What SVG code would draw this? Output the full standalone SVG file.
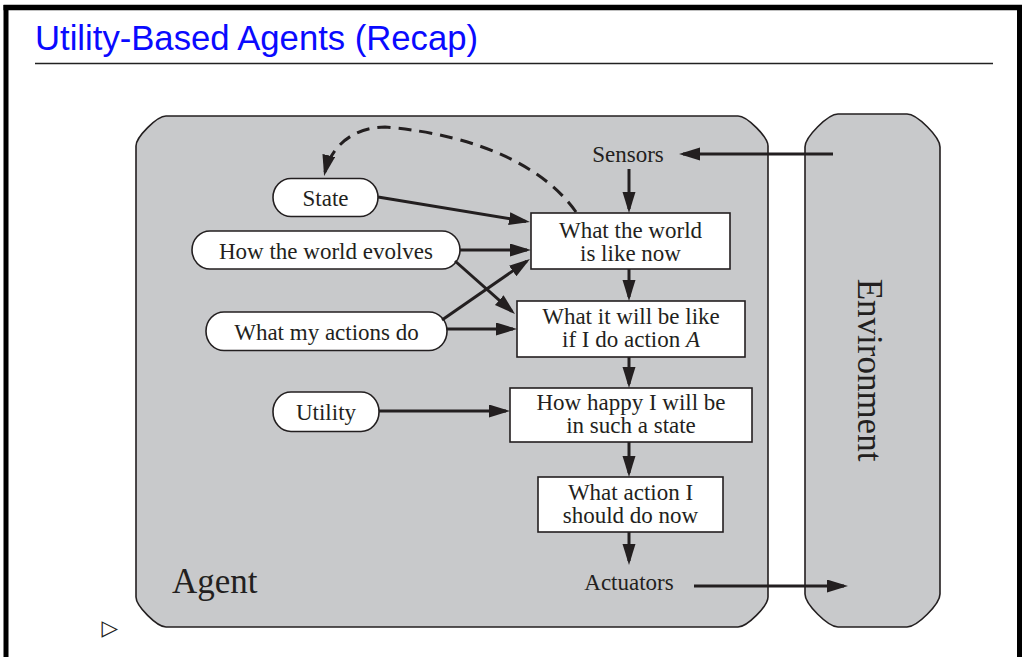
<svg xmlns="http://www.w3.org/2000/svg" width="1022" height="657" viewBox="0 0 1022 657">
  <style>
    .frame { fill: none; stroke: #000; }
    .title { font-family: "Liberation Sans", Arial, sans-serif; font-size: 34.5px; fill: #0a0aff; }
    .panel { fill: #c8c9cb; stroke: #231f20; stroke-width: 1.6; }
    .pill { fill: #fff; stroke: #231f20; stroke-width: 1.6; }
    .box { fill: #fff; stroke: #231f20; stroke-width: 1.6; }
    .lbl { font-family: "Liberation Serif", "Times New Roman", serif; font-size: 23px; fill: #231f20; text-anchor: middle; }
    .big { font-family: "Liberation Serif", "Times New Roman", serif; font-size: 35px; fill: #231f20; }
    .arrow { fill: none; stroke: #231f20; stroke-width: 3; marker-end: url(#head); }
    .dash { fill: none; stroke: #231f20; stroke-width: 3; stroke-dasharray: 13 8; marker-end: url(#head); }
  </style>
  <defs>
    <marker id="head" markerUnits="userSpaceOnUse" markerWidth="24" markerHeight="14" refX="17" refY="6.5" orient="auto">
      <path d="M0,0 L21,6.5 L0,13 Z" fill="#231f20"/>
    </marker>
  </defs>

  <rect width="1022" height="657" fill="#fff"/>

  <!-- slide border -->
  <g id="slide-frame">
    <line class="frame" x1="6" y1="5" x2="6" y2="657" stroke-width="5"/>
    <line class="frame" x1="3.5" y1="7.5" x2="1022" y2="7.5" stroke-width="5.5"/>
    <line class="frame" x1="1019.5" y1="5" x2="1019.5" y2="657" stroke-width="5"/>
  </g>

  <!-- heading -->
  <g id="heading">
    <text class="title" x="35" y="50" textLength="443" lengthAdjust="spacingAndGlyphs">Utility-Based Agents (Recap)</text>
    <line x1="35" y1="63.5" x2="993" y2="63.5" stroke="#222" stroke-width="1.3"/>
  </g>

  <!-- agent container -->
  <g id="agent">
    <path class="panel" d="M166,116 L738,116 C747,116 768,137 768,146 L768,597 C768,606 747,627 738,627 L166,627 C157,627 136,606 136,597 L136,146 C136,137 157,116 166,116 Z"/>
    <text class="big" x="172" y="593">Agent</text>
  </g>

  <!-- environment container -->
  <g id="environment">
    <path class="panel" d="M838,114 L907,114 C917,114 940,137 940,147 L940,594 C940,604 917,627 907,627 L838,627 C828,627 805,604 805,594 L805,147 C805,137 828,114 838,114 Z"/>
    <text class="big" transform="translate(858,370) rotate(90)" text-anchor="middle">Environment</text>
  </g>

  <g id="sensors">
    <text class="lbl" x="628" y="162">Sensors</text>
  </g>
  <g id="actuators">
    <text class="lbl" x="629" y="590">Actuators</text>
  </g>

  <g id="state">
    <rect class="pill" x="273" y="178.5" width="105" height="38" rx="18" ry="19"/>
    <text class="lbl" x="325.5" y="206">State</text>
  </g>
  <g id="world-evolves">
    <rect class="pill" x="192" y="231" width="268" height="38" rx="18" ry="19"/>
    <text class="lbl" x="326" y="258.5">How the world evolves</text>
  </g>
  <g id="actions-do">
    <rect class="pill" x="206" y="312" width="241" height="38.5" rx="18" ry="19"/>
    <text class="lbl" x="326.5" y="339.5">What my actions do</text>
  </g>
  <g id="utility">
    <rect class="pill" x="273" y="392" width="106" height="39.5" rx="18" ry="19.5"/>
    <text class="lbl" x="326" y="420">Utility</text>
  </g>

  <g id="world-now">
    <rect class="box" x="531" y="213" width="199" height="56"/>
    <text class="lbl" x="630.5" y="238">What the world</text>
    <text class="lbl" x="630.5" y="261">is like now</text>
  </g>
  <g id="world-next">
    <rect class="box" x="517" y="301" width="228" height="56"/>
    <text class="lbl" x="631" y="324">What it will be like</text>
    <text class="lbl" x="631" y="347">if I do action <tspan font-style="italic">A</tspan></text>
  </g>
  <g id="happiness">
    <rect class="box" x="510" y="388" width="242" height="54"/>
    <text class="lbl" x="631" y="410">How happy I will be</text>
    <text class="lbl" x="631" y="433">in such a state</text>
  </g>
  <g id="action-choice">
    <rect class="box" x="538" y="477" width="185" height="55"/>
    <text class="lbl" x="630.5" y="500">What action I</text>
    <text class="lbl" x="630.5" y="523">should do now</text>
  </g>

  <!-- connectors -->
  <g id="connectors">
    <line class="arrow" x1="833" y1="154" x2="683" y2="154"/>
    <line class="arrow" x1="629" y1="169" x2="629" y2="209"/>
    <line class="arrow" x1="629" y1="269" x2="629" y2="297"/>
    <line class="arrow" x1="629" y1="357" x2="629" y2="384"/>
    <line class="arrow" x1="629" y1="442" x2="629" y2="473"/>
    <line class="arrow" x1="629" y1="532" x2="629" y2="561"/>
    <line class="arrow" x1="694" y1="586" x2="844" y2="586"/>
    <line class="arrow" x1="378" y1="197" x2="526" y2="221.4"/>
    <line class="arrow" x1="460" y1="250" x2="527" y2="250"/>
    <line class="arrow" x1="455" y1="261" x2="512" y2="311.4"/>
    <line class="arrow" x1="442" y1="320" x2="526.7" y2="261.3"/>
    <line class="arrow" x1="447" y1="329" x2="513" y2="329"/>
    <line class="arrow" x1="379" y1="411" x2="506" y2="411"/>
    <path class="dash" d="M576,212 C545,168 480,135 385,127 C354,127 331,146 325,172"/>
  </g>

  <!-- navigation bullet -->
  <g id="bullet">
    <text x="101.5" y="635" font-family="DejaVu Sans, sans-serif" font-size="21.5" fill="#222">▷</text>
  </g>
</svg>
